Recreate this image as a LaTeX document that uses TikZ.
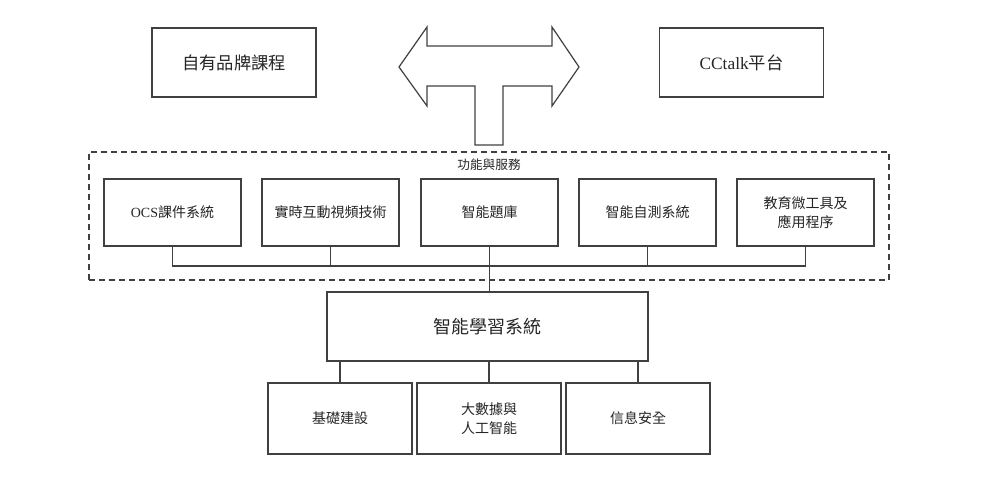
\documentclass[tikz,border=0pt]{standalone}
\usepackage{fontspec}
\setmainfont{Liberation Serif}
\newfontfamily\cjk{Noto Sans CJK TC}
\usepackage{tikz}

\begin{document}
\begin{tikzpicture}[x=0.75pt, y=-0.75pt, line width=0.9pt, every node/.style={text=black!85},
	box/.style={draw=black!75, fill=white, align=center, inner sep=0pt},
	topbox/.style={box, minimum width=164*0.75pt, minimum height=69*0.75pt, font=\cjk\fontsize{13}{16}\selectfont},
	servbox/.style={box, minimum width=137*0.75pt, minimum height=67*0.75pt, font=\cjk\fontsize{10.5}{14}\selectfont},
	basebox/.style={box, minimum width=144*0.75pt, minimum height=71*0.75pt, font=\cjk\fontsize{10.5}{14}\selectfont},
	link/.style={draw=black!75}]
	\useasboundingbox (0,0) rectangle (1000,484);
	\newcommand{\ServRowY}{212.5}
	% top: the two partners and the double arrow
	\node[topbox] (brand) at (234,62.5) {自有品牌課程};
	\node[topbox] (cctalk) at (741.5,62.5) {{\rmfamily CCtalk}平台};
	\draw[draw=black!75, line join=miter] (399,67) -- (427,27) -- (427,46) -- (552,46) -- (552,27) -- (579,67)
		-- (552,106) -- (552,86) -- (503,86) -- (503,145) -- (475,145) -- (475,86) -- (427,86) -- (427,106) -- cycle;
	% functions and services
	\node[draw=black!75, dash pattern=on 4.5pt off 3pt, minimum width=800*0.75pt, minimum height=128*0.75pt, inner sep=0pt] (services) at (489,216) {};
	\node[font=\cjk\fontsize{9.5}{12}\selectfont] (servtitle) at (489,165) {功能與服務};
	\node[servbox] (ocs) at (172.5,\ServRowY) {{\rmfamily OCS}課件系統};
	\node[servbox] (video) at (330.5,\ServRowY) {實時互動視頻技術};
	\node[servbox] (bank) at (489.5,\ServRowY) {智能題庫};
	\node[servbox] (selftest) at (647.5,\ServRowY) {智能自測系統};
	\node[servbox] (apps) at (805.5,\ServRowY) {教育微工具及\\應用程序};
	\coordinate (bus) at (489.5,266);
	\draw[link] (ocs.south) |- (bus) -| (apps.south);
	\draw[link] (video.south) -- (video.south |- bus);
	\draw[link] (selftest.south) -- (selftest.south |- bus);
	% learning system and its base
	\node[box, minimum width=321*0.75pt, minimum height=69*0.75pt, font=\cjk\fontsize{13.5}{16}\selectfont] (core) at (487.5,326.5) {智能學習系統};
	\draw[link] (bank.south) -- (bank.south |- core.north);
	\node[basebox] (infra) at (340,418.5) {基礎建設};
	\node[basebox] (bigdata) at (489,418.5) {大數據與\\人工智能};
	\node[basebox] (security) at (638,418.5) {信息安全};
	\foreach \b in {infra, bigdata, security}
		\draw[link] (core.south -| \b.north) -- (\b.north);
\end{tikzpicture}
\end{document}
